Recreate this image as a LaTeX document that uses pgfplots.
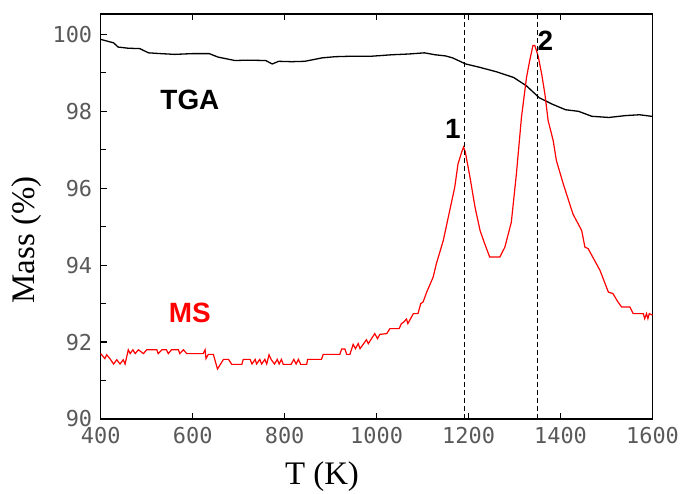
\documentclass[border=0pt]{standalone}
\usepackage{pgfplots}
\pgfplotsset{compat=1.18}
\usepackage{fontspec}
\setmainfont{Liberation Serif}
\newfontfamily\tickfont{DejaVu Sans Mono}
\newfontfamily\boldsans{Liberation Sans}
\begin{document}
\begin{tikzpicture}
\begin{axis}[
  at={(0,0)}, anchor=south west,
  scale only axis, width=551.8bp, height=405bp,
  xmin=400, xmax=1600, ymin=90, ymax=100.53,
  xtick={400,600,...,1600}, ytick={90,92,...,100},
  minor ytick={91,93,...,99},
  xtick pos=both, ytick pos=left,
  tick align=inside,
  major tick length=6bp, minor tick length=5bp,
  axis line style={line width=1.6bp},
  every tick/.style={line width=1.2bp, black},
  tick label style={font=\tickfont\fontsize{22}{24}\selectfont, text=black!65},
  /pgf/number format/assume math mode=true,
  /pgf/number format/1000 sep={},
  xticklabel style={yshift=-5bp},
  yticklabel style={xshift=-5bp},
  xlabel={T (K)}, ylabel={Mass (\%)},
  label style={font=\fontsize{33}{36}\selectfont},
  xlabel style={at={(axis description cs:0.401,0)}, anchor=center, yshift=-58bp},
  ylabel style={at={(axis description cs:-0.134,0.442)}, anchor=center},
  clip=false,
]
% TGA
\addplot[black, line width=1.3bp] coordinates {
(400,99.87) (428,99.78) (438,99.67) (460,99.64) (485,99.63) (504,99.52) (530,99.50) (561,99.48) (600,99.50) (636,99.50)
(655,99.41) (692,99.32) (720,99.33) (759,99.32) (773,99.23) (787,99.30) (815,99.29) (844,99.30) (882,99.39) (910,99.42)
(939,99.43) (986,99.43) (1010,99.45) (1033,99.47) (1070,99.49) (1104,99.52) (1127,99.47) (1150,99.44) (1165,99.39)
(1194,99.23) (1222,99.15) (1260,99.03) (1298,98.88) (1326,98.66) (1354,98.35) (1383,98.18) (1411,98.04) (1439,98.00)
(1468,97.87) (1505,97.84) (1543,97.89) (1572,97.91) (1598,97.87) (1600,97.87)
};
% MS
\addplot[red, line width=1.2bp] coordinates {
(400,91.70) (409,91.57) (413,91.67) (420,91.57) (428,91.43) (435,91.54) (442,91.43) (449,91.54) (453,91.43)
(460,91.80) (464,91.70) (470,91.80) (475,91.70) (482,91.80) (493,91.70) (500,91.80) (522,91.80) (525,91.70)
(533,91.80) (543,91.80) (547,91.70) (554,91.80) (569,91.80) (572,91.70) (580,91.80) (587,91.70) (623,91.70)
(627,91.80) (629,91.57) (634,91.68) (645,91.68) (654,91.30) (667,91.55) (678,91.55) (685,91.42) (707,91.42)
(710,91.55) (725,91.55) (729,91.43) (736,91.55) (739,91.43) (746,91.55) (750,91.43) (757,91.55) (761,91.43)
(766,91.67) (771,91.54) (778,91.43) (784,91.55) (788,91.43) (793,91.55) (797,91.42) (814,91.42) (820,91.55)
(825,91.43) (830,91.55) (835,91.42) (848,91.42) (850,91.55) (880,91.55) (884,91.68) (920,91.68) (924,91.82)
(931,91.82) (935,91.68) (942,91.68) (949,91.94) (954,91.83) (960,91.96) (964,91.83) (978,92.06) (982,91.96)
(989,92.09) (996,92.22) (1002,92.09) (1007,92.20) (1022,92.22) (1029,92.35) (1049,92.35) (1054,92.48)
(1059,92.52) (1065,92.60) (1068,92.48) (1080,92.74) (1090,92.74) (1096,93.00) (1101,93.04) (1109,93.30)
(1123,93.69) (1130,94.04) (1145,94.64) (1159,95.42) (1170,96.03) (1177,96.63) (1185,96.94) (1189,97.07)
(1193,96.94) (1203,96.29) (1214,95.51) (1225,94.90) (1235,94.56) (1246,94.21) (1268,94.21) (1279,94.47)
(1293,95.12) (1304,96.37) (1315,97.84) (1326,98.88) (1333,99.32) (1340,99.71) (1344,99.71) (1351,99.45)
(1359,98.97) (1366,98.45) (1373,97.76) (1384,97.24) (1391,96.72) (1406,96.11) (1413,95.85) (1427,95.33)
(1446,94.90) (1453,94.47) (1460,94.43) (1486,93.86) (1504,93.30) (1514,93.26) (1525,93.04) (1533,92.91)
(1551,92.91) (1558,92.74) (1580,92.74) (1583,92.61) (1587,92.74) (1590,92.61) (1593,92.74) (1600,92.70)
};
% dashed markers
\addplot[black, dash pattern=on 5bp off 3bp, line width=0.9bp] coordinates {(1192,90) (1192,100.53)};
\addplot[black, dash pattern=on 5bp off 3bp, line width=0.9bp] coordinates {(1349,90) (1349,100.53)};
\node[font=\boldsans\bfseries\fontsize{28}{30}\selectfont] at (axis cs:594,98.30) {TGA};
\node[font=\boldsans\bfseries\fontsize{28}{30}\selectfont, text=red] at (axis cs:594,92.75) {MS};
\node[font=\boldsans\bfseries\fontsize{28}{30}\selectfont] at (axis cs:1166,97.55) {1};
\node[font=\boldsans\bfseries\fontsize{28}{30}\selectfont] at (axis cs:1367,99.84) {2};
\end{axis}
\pgfresetboundingbox
\path (-100.7bp,-75bp) rectangle (582.3bp,419bp);
\end{tikzpicture}
\end{document}
